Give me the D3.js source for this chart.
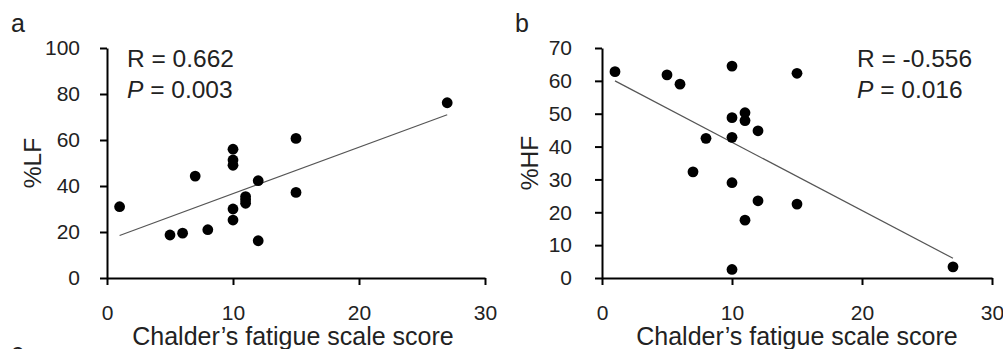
<!DOCTYPE html>
<html>
<head>
<meta charset="utf-8">
<script src="https://cdn.jsdelivr.net/npm/d3@7"></script>
<style>
  body { margin: 0; background: #fff; }
  svg { display: block; font-family: "Liberation Sans", Arial, sans-serif; }
  .axis path, .axis line { stroke: #000; stroke-width: 2; }
  .axis text { font-size: 21px; fill: #222; }
</style>
</head>
<body>
<svg id="chart" width="1003" height="349"></svg>
<script>
// panel a: %LF vs Chalder's fatigue scale score
const scoreA = [1, 5, 6, 7, 8, 10, 10, 10, 10, 10, 11, 11, 11, 12, 12, 15, 15, 27];
const lfA    = [31, 18.7, 19.5, 44.3, 21, 56, 51.3, 49, 30, 25.2, 35.4, 34, 32.5, 42.3, 16.2, 60.7, 37.2, 76.2];
const fitA   = [[1, 18.5], [27, 71]];

// panel b: %HF vs Chalder's fatigue scale score
const scoreB = [1, 5, 6, 7, 8, 10, 10, 10, 10, 10, 11, 11, 11, 12, 12, 15, 15, 27];
const hfB    = [62.8, 61.8, 59, 32.3, 42.5, 64.5, 48.8, 42.8, 29, 2.6, 50.3, 47.9, 17.6, 44.8, 23.5, 62.3, 22.5, 3.4];
const fitB   = [[1, 60], [27, 6]];

const xTicks = [0, 10, 20, 30];
const yTicksA = [0, 20, 40, 60, 80, 100];
const yTicksB = [0, 10, 20, 30, 40, 50, 60, 70];

const svg = d3.select('#chart');

function drawPanel(opt) {
    const x = d3.scaleLinear().domain([0, 30]).range([opt.left, opt.right]);
    const y = d3.scaleLinear().domain([0, opt.yMax]).range([278, 48]);

    svg.append('g')
        .attr('class', 'axis')
        .attr('transform', 'translate(0,278)')
        .call(d3.axisBottom(x).tickValues(xTicks).tickSize(7).tickSizeOuter(0).tickPadding(20));

    svg.append('g')
        .attr('class', 'axis')
        .attr('transform', `translate(${opt.left},0)`)
        .call(d3.axisLeft(y).tickValues(opt.yTicks).tickSize(7).tickSizeOuter(0).tickPadding(opt.yPad));

    svg.selectAll('.axis .domain').attr('stroke-width', 2);

    // fit line
    svg.append('path')
        .datum(opt.fit)
        .attr('fill', 'none')
        .attr('stroke', '#555')
        .attr('stroke-width', 1.2)
        .attr('d', d3.line().x(d => x(d[0])).y(d => y(d[1])));

    // points
    svg.append('g')
        .selectAll('circle')
        .data(opt.xs.map((v, i) => [v, opt.ys[i]]))
        .enter()
        .append('circle')
        .attr('cx', d => x(d[0]))
        .attr('cy', d => y(d[1]))
        .attr('r', 5.4)
        .attr('fill', '#000');

    // x title
    svg.append('text')
        .attr('x', (opt.left + opt.right) / 2 + opt.titleShift)
        .attr('y', 345)
        .attr('text-anchor', 'middle')
        .style('font-size', '25px')
        .style('fill', '#222')
        .text('Chalder\u2019s fatigue scale score');

    // y title
    svg.append('text')
        .attr('transform', `translate(${opt.yTitleX},163) rotate(-90)`)
        .attr('text-anchor', 'middle')
        .style('font-size', '24.5px')
        .style('fill', '#222')
        .text(opt.yTitle);

    // panel letter
    svg.append('text')
        .attr('x', opt.letterX)
        .attr('y', 32)
        .style('font-size', '25px')
        .style('fill', '#222')
        .text(opt.letter);

    // stats
    const st = svg.append('text')
        .attr('x', opt.statX)
        .style('font-size', '24.5px')
        .style('fill', '#222');
    st.append('tspan').attr('x', opt.statX).attr('y', 67).text('R = ' + opt.r);
    const p = st.append('tspan').attr('x', opt.statX).attr('y', 98);
    p.append('tspan').style('font-style', 'italic').text('P');
    p.append('tspan').text(' = ' + opt.p);
}

drawPanel({
    left: 107, right: 485, yMax: 100, yTicks: yTicksA, yPad: 20,
    xs: scoreA, ys: lfA, fit: fitA,
    yTitle: '%LF', yTitleX: 41, letter: 'a', letterX: 11,
    statX: 127, r: '0.662', p: '0.003', titleShift: -3
});

drawPanel({
    left: 602, right: 992, yMax: 70, yTicks: yTicksB, yPad: 23,
    xs: scoreB, ys: hfB, fit: fitB,
    yTitle: '%HF', yTitleX: 538, letter: 'b', letterX: 515,
    statX: 857, r: '-0.556', p: '0.016', titleShift: 0
});

// clipped letter of the next panel
svg.append('text')
    .attr('x', 11)
    .attr('y', 361)
    .style('font-size', '25px')
    .style('fill', '#222')
    .text('c');
</script>
</body>
</html>
